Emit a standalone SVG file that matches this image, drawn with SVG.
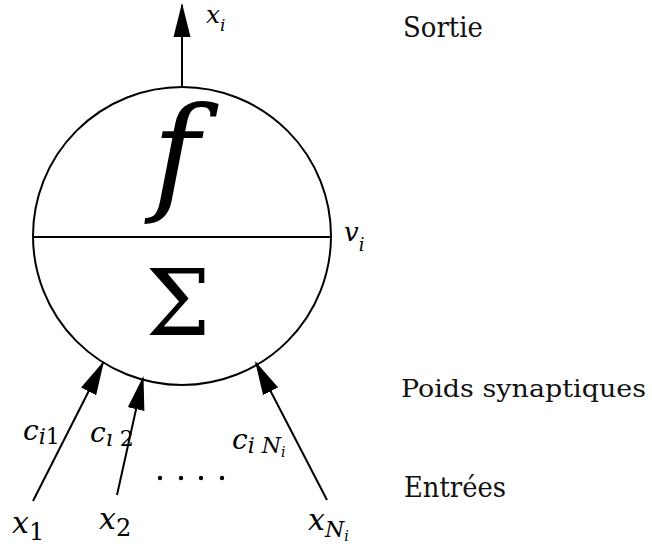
<svg xmlns="http://www.w3.org/2000/svg" width="652" height="548" viewBox="0 0 652 548">
<style>
.ln{stroke:#000;stroke-width:2;fill:none}
.m{font-family:'DejaVu Serif',serif;font-style:italic;fill:#000}
.r{font-style:normal}
.t{font-family:'DejaVu Serif',serif;fill:#111;font-size:28px}
</style>
<defs>
<marker id="ah" markerUnits="userSpaceOnUse" markerWidth="34" markerHeight="18" viewBox="0 0 32 16" refX="30" refY="8" orient="auto">
<path d="M0,0 L32,8 L0,16 Z" fill="#000"/>
</marker>
</defs>
<rect width="652" height="548" fill="#fff"/>
<g id="neuron">
<circle cx="182" cy="236" r="149" class="ln"/>
<line x1="33" y1="237" x2="331" y2="237" class="ln"/>
<text x="176" y="197" class="m" font-size="128" text-anchor="middle">f</text>
<text x="178" y="335" class="m r" font-size="92" text-anchor="middle">Σ</text>
</g>
<g id="connectors">
<line x1="182" y1="87" x2="182" y2="5" class="ln" marker-end="url(#ah)"/>
<line x1="33" y1="501" x2="103" y2="363" class="ln" marker-end="url(#ah)"/>
<line x1="117" y1="495" x2="143" y2="378" class="ln" marker-end="url(#ah)"/>
<line x1="327" y1="500" x2="256" y2="363" class="ln" marker-end="url(#ah)"/>
</g>
<g id="dots" fill="#000">
<circle cx="160" cy="478" r="2.2"/>
<circle cx="181" cy="478" r="2.2"/>
<circle cx="201" cy="478" r="2.2"/>
<circle cx="222" cy="478" r="2.2"/>
</g>
<g id="labels">
<text x="206" y="23" class="m" font-size="25">x<tspan font-size="17" dy="8">i</tspan></text>
<text x="344" y="241" class="m" font-size="26">v<tspan font-size="18" dy="10">i</tspan></text>
<text x="23" y="440" class="m" font-size="28">c<tspan font-size="22" dy="4">i</tspan><tspan class="r" font-size="22">1</tspan></text>
<text x="90" y="442" class="m" font-size="28">c<tspan font-size="22" dy="4">ı</tspan><tspan class="r" font-size="22"> 2</tspan></text>
<text x="232" y="449" class="m" font-size="28">c<tspan font-size="22" dy="4">i</tspan><tspan font-size="22"> N</tspan><tspan font-size="14" dy="4">i</tspan></text>
<text x="12" y="533" class="m" font-size="30">x<tspan class="r" font-size="24" dy="7">1</tspan></text>
<text x="99" y="529" class="m" font-size="30">x<tspan class="r" font-size="24" dy="7">2</tspan></text>
<text x="308" y="530" class="m" font-size="30">x<tspan font-size="22" dy="7">N</tspan><tspan font-size="14" dy="4">i</tspan></text>
<text x="403" y="37" class="t" textLength="80" lengthAdjust="spacingAndGlyphs">Sortie</text>
<text x="401" y="397" class="t" font-size="25" style="font-size:25px" textLength="245" lengthAdjust="spacingAndGlyphs">Poids synaptiques</text>
<text x="404" y="497" class="t" textLength="102" lengthAdjust="spacingAndGlyphs">Entrées</text>
</g>
</svg>
